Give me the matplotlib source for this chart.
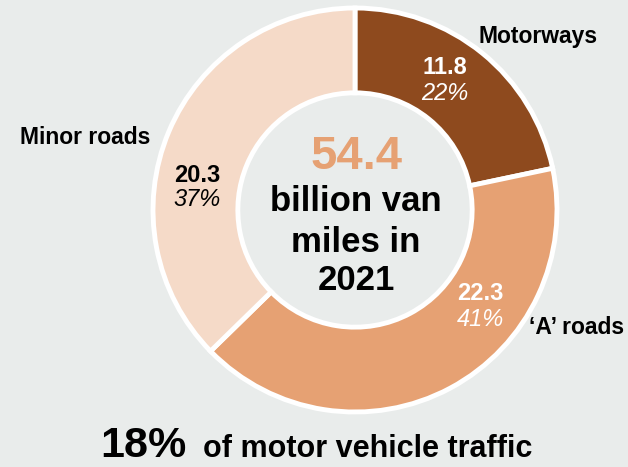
import matplotlib.pyplot as plt

# data
roads = ["Motorways", "\u2018A\u2019 roads", "Minor roads"]
miles = [11.8, 22.3, 20.3]
shares = ["22%", "41%", "37%"]
total = "54.4"
colors = ["#8E4A1E", "#E6A173", "#F5DAC8"]
bg = "#E9ECEB"

W, H = 628, 467
cx, cy, R = 355, 210, 202

fig = plt.figure(figsize=(W / 100, H / 100), dpi=100, facecolor=bg)
ax = fig.add_axes([0, 0, 1, 1])
ax.set_facecolor(bg)
ax.pie(miles, colors=colors, startangle=90, counterclock=False, radius=1,
       wedgeprops=dict(width=0.42, edgecolor="white", linewidth=3.5))
ax.set_xlim(-cx / R, (W - cx) / R)
ax.set_ylim(-(H - cy) / R, cy / R)
ax.set_aspect("equal")
ax.axis("off")

plt.rcParams["font.family"] = ["Liberation Sans", "DejaVu Sans"]


def put(px, py, s, **kw):
    fig.text(px / W, 1 - py / H, s, **kw)


# slice labels (value bold, share italic)
val_pos = [(445, 67), (480, 293), (197, 175)]
pct_pos = [(445, 94), (480, 320), (197, 200)]
txt_col = ["white", "white", "black"]
for i in range(len(miles)):
    put(*val_pos[i], f"{miles[i]}", ha="center", va="center", fontsize=17,
        fontweight="bold", color=txt_col[i])
    put(*pct_pos[i], shares[i], ha="center", va="center", fontsize=17,
        style="italic", color=txt_col[i])

name_pos = [(538, 37), (577, 327), (85, 137)]
for i, name in enumerate(roads):
    put(*name_pos[i], name, ha="center", va="center", fontsize=16.5,
        fontweight="bold", color="black")

# centre
put(356, 157, total, ha="center", va="center", fontsize=34,
    fontweight="bold", color=colors[1])
for y, line in zip([202, 242, 281], ["billion van", "miles in", "2021"]):
    put(356, y, line, ha="center", va="center", fontsize=25,
        fontweight="bold", color="black")

# bottom caption
put(100, 457, "18%", ha="left", va="baseline", fontsize=31,
    fontweight="bold")
put(203, 457, "of motor vehicle traffic", ha="left", va="baseline",
    fontsize=22, fontweight="bold")

fig.savefig("out.png", dpi=100, facecolor=bg)
